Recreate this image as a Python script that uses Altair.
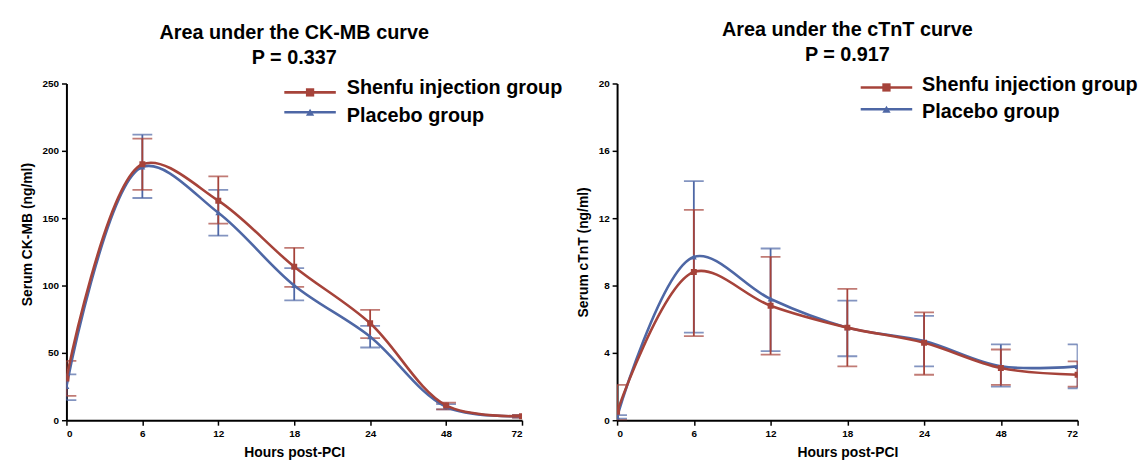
import altair as alt
import pandas as pd

hours = ["0", "6", "12", "18", "24", "48", "72"]
series = ["Shenfu injection group", "Placebo group"]
colors = ["#A6433A", "#4E67A5"]
shapes = ["square", "triangle-up"]

# CK-MB (ng/ml)
shenfu_ck = [31, 190, 163, 114, 72, 11, 3]
shenfu_ck_lo = [18, 171, 146, 99, 61, 8, 2]
shenfu_ck_hi = [44, 209, 181, 128, 82, 13, 4]
placebo_ck = [25, 188, 154, 100, 62, 10, 3]
placebo_ck_lo = [15, 165, 137, 89, 54, 8, 2]
placebo_ck_hi = [34, 212, 171, 113, 70, 12, 4]

# cTnT (ng/ml)
shenfu_tn = [0.5, 8.8, 6.8, 5.5, 4.6, 3.1, 2.7]
shenfu_tn_lo = [0.0, 5.0, 3.9, 3.2, 2.7, 2.1, 2.0]
shenfu_tn_hi = [2.1, 12.5, 9.7, 7.8, 6.4, 4.2, 3.5]
placebo_tn = [0.2, 9.7, 7.2, 5.5, 4.7, 3.2, 3.2]
placebo_tn_lo = [0.1, 5.2, 4.1, 3.8, 3.2, 2.0, 1.9]
placebo_tn_hi = [0.3, 14.2, 10.2, 7.1, 6.2, 4.5, 4.5]

FONT = "Liberation Sans"
label_expr = "[" + ",".join("'%s'" % h for h in hours) + "][datum.value]"


def panel(title_lines, ytitle, ymax, ystep, data, width, leg_x, leg_lines_y, leg_text_x,
          leg_text_y, ytitle_y=None):
    rows = []
    for name, (m, lo, hi) in zip(series, data):
        for i in range(len(hours)):
            rows.append({"idx": i, "series": name, "mean": m[i], "lo": lo[i], "hi": hi[i]})
    df = pd.DataFrame(rows)

    xenc = alt.X(
        "idx:Q",
        scale=alt.Scale(domain=[0, len(hours) - 1], nice=False, zero=False),
        axis=alt.Axis(values=list(range(len(hours))), labelExpr=label_expr,
                      title="Hours post-PCI"),
    )

    yaxis_kw = dict(values=list(range(0, ymax + 1, ystep)), title=ytitle)
    if ytitle_y is not None:
        yaxis_kw["titleY"] = ytitle_y

    def yenc(field):
        return alt.Y(
            field + ":Q",
            scale=alt.Scale(domain=[0, ymax], nice=False),
            axis=alt.Axis(**yaxis_kw),
        )

    layers = []
    order = [1, 0]
    for k in order:
        sub = alt.Chart(df).transform_filter(alt.datum.series == series[k])
        layers.append(sub.mark_rule(color=colors[k], strokeWidth=1.8, clip=True)
                      .encode(x=xenc, y=yenc("lo"), y2="hi:Q"))
        for f in ["lo", "hi"]:
            layers.append(sub.mark_tick(orient="horizontal", size=20, thickness=1.8,
                                        color=colors[k], clip=True)
                          .encode(x=xenc, y=yenc(f)))
    for k in order:
        sub = alt.Chart(df).transform_filter(alt.datum.series == series[k])
        layers.append(sub.mark_line(interpolate="catmull-rom", strokeWidth=2.6,
                                    color=colors[k], clip=True)
                      .encode(x=xenc, y=yenc("mean")))
    for k in order:
        sub = alt.Chart(df).transform_filter(alt.datum.series == series[k])
        layers.append(sub.mark_point(shape=shapes[k], filled=True, size=36, opacity=1,
                                     color=colors[k], clip=True)
                      .encode(x=xenc, y=yenc("mean")))

    # legend
    one = alt.Data(values=[{"a": 1}])
    for k, name in enumerate(series):
        ly = leg_lines_y[k]
        layers.append(alt.Chart(one).mark_rule(color=colors[k], strokeWidth=2.6)
                      .encode(x=alt.value(leg_x), x2=alt.value(leg_x + 52), y=alt.value(ly)))
        layers.append(alt.Chart(one).mark_point(shape=shapes[k], filled=True, size=70,
                                                opacity=1, color=colors[k])
                      .encode(x=alt.value(leg_x + 26), y=alt.value(ly)))
        layers.append(alt.Chart(one).mark_text(align="left", baseline="alphabetic", font=FONT,
                                               fontSize=20, fontWeight="bold", color="black")
                      .encode(x=alt.value(leg_text_x), y=alt.value(leg_text_y[k]),
                              text=alt.value(name)))

    return alt.layer(*layers).properties(
        width=width,
        height=340,
        title=alt.TitleParams(text=title_lines, fontSize=20, fontWeight="bold", font=FONT,
                              anchor="middle", lineHeight=25, offset=11, color="black"),
    )


left = panel(["Area under the CK-MB curve", "P = 0.337"], "Serum CK-MB (ng/ml)", 250, 50,
             [(shenfu_ck, shenfu_ck_lo, shenfu_ck_hi), (placebo_ck, placebo_ck_lo, placebo_ck_hi)],
             460, 220, [9, 29], 283, [11, 39], ytitle_y=152)
right = panel(["Area under the cTnT curve", "P = 0.917"], "Serum cTnT (ng/ml)", 20, 4,
              [(shenfu_tn, shenfu_tn_lo, shenfu_tn_hi), (placebo_tn, placebo_tn_lo, placebo_tn_hi)],
              465, 246, [4, 26], 308, [8, 35])

chart = (
    alt.hconcat(left, right, spacing=13)
    .properties(padding={"left": 12, "top": 10, "right": 2, "bottom": 5}, background="white")
    .configure_view(stroke=None)
    .configure_axis(
        grid=False,
        domainColor="black",
        domainWidth=2,
        tickColor="black",
        tickWidth=1.5,
        tickSize=5,
        labelFont=FONT,
        labelFontSize=10,
        labelFontWeight="bold",
        labelColor="black",
        labelPadding=3,
        titleFont=FONT,
        titleFontSize=14,
        titleFontWeight="bold",
        titleColor="black",
        titlePadding=8,
    )
)

chart.save("out.html", embed_options={"renderer": "svg", "actions": False})
